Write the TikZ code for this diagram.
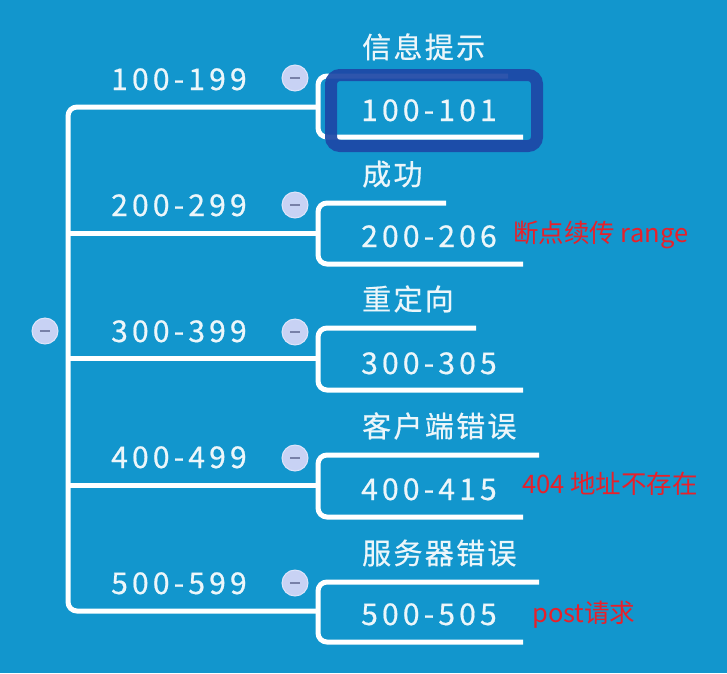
\documentclass[tikz,border=0pt]{standalone}
\usepackage{fontspec}
\newfontfamily\wfont{Noto Sans CJK SC}[LetterSpace=14,FakeBold=0.6]
\newfontfamily\cfont{Noto Sans CJK SC}[LetterSpace=8,FakeBold=0.6]
\newfontfamily\rfont{Noto Sans CJK SC}
\definecolor{bg}{RGB}{18,150,205}
\definecolor{wtxt}{RGB}{236,246,250}
\definecolor{rtxt}{RGB}{232,32,42}
\definecolor{hl}{RGB}{29,71,166}
\definecolor{cfill}{RGB}{200,210,244}
\definecolor{cedge}{RGB}{222,228,250}
\definecolor{cminus}{RGB}{120,128,168}
\tikzset{
  wline/.style={draw=white,line width=5pt,rounded corners=9pt},
  lbl/.style={font=\wfont\fontsize{30}{33}\selectfont,text=wtxt,inner sep=0pt,anchor=base west},
  ttl/.style={font=\cfont\fontsize{29}{33}\selectfont,text=wtxt,inner sep=0pt,anchor=base west},
  note/.style={font=\rfont\fontsize{25.5}{29}\selectfont,text=rtxt,inner sep=0pt,anchor=base west},
  collapse/.style={circle,fill=cfill,draw=cedge,line width=1pt,minimum size=26pt,inner sep=0pt},
  hlbox/.style={draw=hl,line width=12pt,rounded corners=9pt,draw opacity=0.92}
}
\newcommand{\minusmark}[1]{\draw[cminus,line width=2pt] ([xshift=-5pt]#1.center) -- ([xshift=5pt]#1.center);}
\begin{document}
\begin{tikzpicture}[x=1pt,y=-1pt]
\fill[bg] (0,0) rectangle (727,673);
\useasboundingbox (0,0) rectangle (727,673);
% trunk coordinates
\coordinate (t1) at (68,107);
\coordinate (t2) at (68,233);
\coordinate (t3) at (68,358);
\coordinate (t4) at (68,485);
\coordinate (t5) at (68,611);
\coordinate (b1) at (318,107);
\coordinate (b2) at (318,233);
\coordinate (b3) at (318,358);
\coordinate (b4) at (318,485);
\coordinate (b5) at (318,611);
% trunk
\draw[wline] (b1) -- (t1) -- (t5) -- (b5);
\draw[wline] (t2) -- (b2);
\draw[wline] (t3) -- (b3);
\draw[wline] (t4) -- (b4);
% brackets: title underline / value underline
\coordinate (s1) at (508,76);  \coordinate (v1) at (523,137);
\coordinate (s2) at (446,203); \coordinate (v2) at (523,264);
\coordinate (s3) at (476,328); \coordinate (v3) at (523,390);
\coordinate (s4) at (539,455); \coordinate (v4) at (523,517);
\coordinate (s5) at (539,582); \coordinate (v5) at (523,642);
\foreach \i in {1,...,5}{
  \draw[wline] (s\i) -- (318,0 |- s\i) -- (318,0 |- v\i) -- (v\i);
}
% group labels
\node[lbl] (g1) at (111,90) {100-199};
\node[lbl] (g2) at (111,216) {200-299};
\node[lbl] (g3) at (111,342) {300-399};
\node[lbl] (g4) at (111,468) {400-499};
\node[lbl] (g5) at (111,594) {500-599};
% titles
\node[ttl] (h1) at (362,58) {信息提示};
\node[ttl] (h2) at (362,185) {成功};
\node[ttl] (h3) at (362,310) {重定向};
\node[ttl] (h4) at (362,437) {客户端错误};
\node[ttl] (h5) at (362,564) {服务器错误};
% values
\node[lbl] (r1) at (361,121) {100-101};
\node[lbl] (r2) at (361,247) {200-206};
\node[lbl] (r3) at (361,374) {300-305};
\node[lbl] (r4) at (361,500) {400-415};
\node[lbl] (r5) at (361,625) {500-505};
% highlight box
\draw[hlbox] (331,75) rectangle (537,146);
% collapse circles
\node[collapse] (c0) at (45,331) {};
\node[collapse] (c1) at (295,78) {};
\node[collapse] (c2) at (295,205) {};
\node[collapse] (c3) at (295,332) {};
\node[collapse] (c4) at (295,458) {};
\node[collapse] (c5) at (295,583) {};
\foreach \c in {c0,c1,c2,c3,c4,c5}{\minusmark{\c}}
% red notes
\node[note] (n2) at (513,242) {断点续传 range};
\node[note] (n4) at (522,493) {404 地址不存在};
\node[note] (n5) at (532,622) {post请求};
\end{tikzpicture}
\end{document}
